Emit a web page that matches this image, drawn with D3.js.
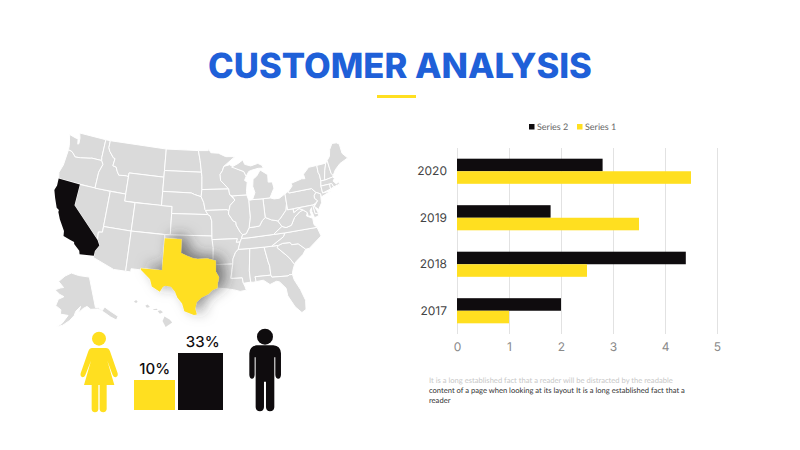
<!doctype html>
<html lang="en">
<head>
<meta charset="UTF-8">
<title>Customer Analysis</title>
<script src="https://cdnjs.cloudflare.com/ajax/libs/d3/7.8.5/d3.min.js"></script>
<style>
  html, body { margin: 0; padding: 0; background: #fff; }
  svg { display: block; }
  text { text-rendering: geometricPrecision; }
  .domain { display: none; }
</style>
</head>
<body>
<script>
  // chart values
  var years = ["2020", "2019", "2018", "2017"];
  var series2 = [2.8, 1.8, 4.4, 2];
  var series1 = [4.5, 3.5, 2.5, 1];
  var xTicks = [0, 1, 2, 3, 4, 5];
  var legendLabels = ["Series 2", "Series 1"];
  var shareLabels = ["10%", "33%"];
  var shareValues = [10, 33];
  var noteLines = [
    "It is a long established fact that a reader will be distracted by the readable",
    "content of a page when looking at its layout It is a long established fact that a",
    "reader"
  ];

  // state outlines, lon/lat
  var states = {
    WA: [[-124.7,48.38],[-123.2,48.15],[-122.75,48.15],[-122.5,47.4],[-122.3,47.5],[-122.4,48.3],[-122.75,49],[-117.03,49],[-117.04,46.42],[-116.92,45.99],[-118.98,46],[-119.3,45.93],[-121.2,45.65],[-122.3,45.55],[-122.8,45.9],[-123.2,46.15],[-124,46.27],[-124.1,46.9]],
    OR: [[-124,46.27],[-123.2,46.15],[-122.8,45.9],[-122.3,45.55],[-121.2,45.65],[-119.3,45.93],[-118.98,46],[-116.92,45.99],[-116.5,45.5],[-117,44.3],[-117.03,42],[-124.2,42],[-124.5,42.85],[-124.1,44]],
    NV: [[-120,42],[-114.04,42],[-114.04,36.2],[-114.75,36.1],[-114.63,35],[-120,39]],
    ID: [[-117.03,49],[-116.05,49],[-116.05,48],[-115.7,47.5],[-114.7,46.7],[-114.35,46.65],[-114.5,45.6],[-113.8,45.5],[-113.45,44.95],[-113,44.45],[-111.5,44.55],[-111.05,44.48],[-111.05,42],[-117.03,42],[-117,44.3],[-116.5,45.5],[-116.92,45.99],[-117.04,46.42]],
    MT: [[-116.05,49],[-104.05,49],[-104.05,45],[-111.05,45],[-111.05,44.48],[-111.5,44.55],[-113,44.45],[-113.45,44.95],[-113.8,45.5],[-114.5,45.6],[-114.35,46.65],[-114.7,46.7],[-115.7,47.5],[-116.05,48]],
    WY: [[-111.05,45],[-104.05,45],[-104.05,41],[-111.05,41]],
    UT: [[-114.04,42],[-111.05,42],[-111.05,41],[-109.05,41],[-109.05,37],[-114.04,37]],
    CO: [[-109.05,41],[-102.05,41],[-102.05,37],[-109.05,37]],
    AZ: [[-114.04,37],[-109.05,37],[-109.05,31.33],[-111.07,31.33],[-114.81,32.5],[-114.72,32.72],[-114.7,33.4],[-114.14,34.3],[-114.63,35],[-114.75,36.1],[-114.04,36.2]],
    NM: [[-109.05,37],[-103,37],[-103.04,32],[-106.62,32],[-106.53,31.78],[-108.2,31.78],[-108.2,31.33],[-109.05,31.33]],
    ND: [[-104.05,49],[-97.23,49],[-96.85,47.6],[-96.56,45.94],[-104.05,45.94]],
    SD: [[-104.05,45.94],[-96.56,45.94],[-96.45,45.3],[-96.45,43.5],[-96.6,42.5],[-97.9,42.8],[-98.5,43],[-104.05,43]],
    NE: [[-104.05,43],[-98.5,43],[-97.9,42.8],[-96.6,42.5],[-96.1,41.7],[-95.85,40.7],[-95.31,40],[-102.05,40],[-102.05,41],[-104.05,41]],
    KS: [[-102.05,40],[-95.31,40],[-94.9,39.8],[-94.62,39.1],[-94.62,37],[-102.05,37]],
    OK: [[-103,37],[-94.62,37],[-94.43,35.4],[-94.48,33.64],[-95.5,33.88],[-97.1,33.8],[-97.9,33.9],[-98.9,34.2],[-100,34.56],[-100,36.5],[-103,36.5]],
    MN: [[-97.23,49],[-95.15,49],[-95.15,49.38],[-94.6,48.7],[-93,48.6],[-91.5,48.07],[-89.6,48],[-92,46.7],[-92.3,46.1],[-92.8,45.6],[-92.75,44.75],[-91.22,43.5],[-96.45,43.5],[-96.45,45.3],[-96.56,45.94],[-96.85,47.6]],
    IA: [[-96.45,43.5],[-91.22,43.5],[-91.1,42.7],[-90.15,41.9],[-91.1,41.2],[-91.42,40.38],[-91.73,40.61],[-95.77,40.58],[-95.85,40.7],[-96.1,41.7],[-96.6,42.5]],
    MO: [[-95.77,40.58],[-91.73,40.61],[-91.42,40.38],[-91.5,40],[-90.7,39],[-90.2,38.8],[-90.2,38.4],[-89.5,37.3],[-89.15,37],[-89.4,36.5],[-89.7,36],[-90.37,36],[-90.15,36.5],[-94.62,36.5],[-94.62,39.1],[-94.9,39.8],[-95.31,40]],
    AR: [[-94.62,36.5],[-90.15,36.5],[-90.37,36],[-89.7,36],[-90.1,35],[-90.6,34.6],[-91.1,33.7],[-91.17,33],[-94.04,33],[-94.04,33.55],[-94.48,33.64],[-94.43,35.4]],
    LA: [[-94.04,33],[-91.17,33],[-91.6,31],[-89.73,31],[-89.6,30.2],[-89.4,29.8],[-89.2,29.2],[-90.2,29.1],[-91.3,29.4],[-92.3,29.55],[-93.85,29.7],[-93.8,30.3],[-93.55,31.2],[-94.04,31.99]],
    MS: [[-90.1,35],[-88.2,35],[-88.1,34.9],[-88.47,31.9],[-88.4,30.3],[-89.6,30.2],[-89.73,31],[-91.6,31],[-91.17,33],[-91.1,33.7],[-90.6,34.6]],
    AL: [[-88.2,35],[-85.6,35],[-85.18,32.87],[-85,32.3],[-85,31],[-87.6,31],[-87.5,30.3],[-88,30.25],[-88.4,30.3],[-88.47,31.9],[-88.1,34.9]],
    GA: [[-85.6,35],[-83.1,35],[-83.35,34.7],[-82,33.5],[-81.5,33],[-80.85,32.05],[-81.3,31.2],[-81.45,30.7],[-82,30.7],[-82.2,30.57],[-84.86,30.7],[-85,31],[-85,32.3],[-85.18,32.87]],
    FL: [[-87.6,31],[-85,31],[-84.86,30.7],[-82.2,30.57],[-82,30.7],[-81.45,30.7],[-81.3,29.9],[-80.55,28.4],[-80.03,26.8],[-80.2,25.5],[-80.9,25.15],[-81.8,26.1],[-82.7,27.8],[-82.8,28.9],[-83.7,29.9],[-84.2,30.05],[-85.3,29.7],[-86.3,30.4],[-87.5,30.3]],
    SC: [[-83.1,35],[-82.3,35.2],[-81,35.15],[-80.8,34.82],[-79.67,34.8],[-78.55,33.86],[-79.2,33.2],[-80.5,32.4],[-80.85,32.05],[-81.5,33],[-82,33.5],[-83.35,34.7]],
    NC: [[-84.32,35],[-83.1,35],[-82.3,35.2],[-81,35.15],[-80.8,34.82],[-79.67,34.8],[-78.55,33.86],[-77.9,33.9],[-76.5,34.7],[-75.5,35.25],[-75.87,36.55],[-81.68,36.59],[-82,36.1]],
    TN: [[-89.7,36],[-89.4,36.5],[-88.07,36.5],[-83.68,36.6],[-81.68,36.59],[-82,36.1],[-84.32,35],[-85.6,35],[-88.2,35],[-90.1,35]],
    KY: [[-89.4,36.5],[-89.15,37],[-88.5,37.1],[-87.9,37.9],[-86.8,37.95],[-86,38],[-85.4,38.7],[-84.8,39.1],[-83.7,38.65],[-82.6,38.4],[-82,37.55],[-83.68,36.6],[-88.07,36.5]],
    VA: [[-83.68,36.6],[-82,37.55],[-81.3,37.3],[-80.3,37.5],[-79.5,38.5],[-78.4,39.15],[-77.72,39.32],[-77.05,38.85],[-77.3,38.4],[-76.3,37.9],[-76.3,37],[-75.87,36.55],[-81.68,36.59]],
    WV: [[-82.6,38.4],[-82,37.55],[-81.3,37.3],[-80.3,37.5],[-79.5,38.5],[-78.4,39.15],[-77.72,39.32],[-78.4,39.62],[-79.48,39.2],[-79.48,39.72],[-80.52,39.72],[-80.52,40.64],[-80.85,39.7],[-81.7,39],[-82.2,38.6]],
    OH: [[-84.8,41.73],[-83.45,41.73],[-82.7,41.5],[-81.7,41.5],[-80.52,41.98],[-80.52,40.64],[-80.85,39.7],[-81.7,39],[-82.2,38.6],[-82.6,38.4],[-83.7,38.65],[-84.8,39.1]],
    IN: [[-87.53,41.7],[-86.8,41.76],[-84.8,41.73],[-84.8,39.1],[-85.4,38.7],[-86,38],[-86.8,37.95],[-87.9,37.9],[-87.53,39.35]],
    IL: [[-90.64,42.5],[-87.8,42.5],[-87.53,41.7],[-87.53,39.35],[-87.9,37.9],[-88.5,37.1],[-89.15,37],[-89.5,37.3],[-90.2,38.4],[-90.2,38.8],[-90.7,39],[-91.5,40],[-91.42,40.38],[-91.1,41.2],[-90.15,41.9]],
    WI: [[-92,46.7],[-90.8,46.9],[-89.1,46.15],[-88,45.8],[-87.6,45.1],[-88,44.55],[-87.5,44.3],[-87.8,43],[-87.8,42.5],[-90.64,42.5],[-91.1,42.7],[-91.22,43.5],[-92.75,44.75],[-92.8,45.6],[-92.3,46.1]],
    MIL: [[-86.8,41.76],[-84.8,41.73],[-83.45,41.73],[-83.1,42.2],[-82.45,43],[-82.6,43.9],[-83.4,43.95],[-83.3,45],[-84.7,45.78],[-85.5,45],[-86.3,44.6],[-86.5,43.6],[-86.2,42.7]],
    MIU: [[-90.4,46.55],[-89,47],[-88,47.45],[-87.7,46.8],[-86.5,46.5],[-85,46.75],[-84.2,46.4],[-84,46],[-85,46.05],[-86.3,45.9],[-87,45.75],[-87.6,45.1],[-88,45.8],[-89.1,46.15]],
    PA: [[-80.52,41.98],[-79.76,42.26],[-79.76,42],[-75.35,42],[-74.7,41.35],[-75.13,40.97],[-75.2,40.6],[-74.72,40.15],[-75.4,39.8],[-75.8,39.72],[-80.52,39.72]],
    NY: [[-79.76,42.26],[-78.9,42.9],[-79.05,43.27],[-76.8,43.63],[-76.2,43.55],[-76.3,44.2],[-75,45],[-73.34,45],[-73.4,44],[-73.25,43.6],[-73.28,42.75],[-73.5,42.05],[-73.49,41.05],[-71.9,41.05],[-73.9,40.55],[-73.9,41],[-74.7,41.35],[-75.35,42],[-79.76,42]],
    VT: [[-73.34,45],[-71.5,45],[-72.05,44],[-72.45,43],[-72.46,42.73],[-73.28,42.75],[-73.25,43.6],[-73.4,44]],
    NH: [[-71.5,45],[-71.08,45.3],[-70.98,43.4],[-70.7,43.05],[-70.85,42.87],[-72.46,42.73],[-72.45,43],[-72.05,44]],
    ME: [[-71.08,45.3],[-70.4,45.8],[-70,46.7],[-69.2,47.45],[-68.3,47.35],[-67.8,47.07],[-67.8,45.7],[-67,44.85],[-68.8,44.4],[-70,43.75],[-70.7,43.05],[-70.98,43.4]],
    MA: [[-73.5,42.05],[-73.28,42.75],[-72.46,42.73],[-70.85,42.87],[-70.6,42.65],[-71,42.3],[-70.55,41.8],[-70,42],[-70,41.65],[-71.2,41.5],[-71.38,42.02]],
    CT: [[-73.5,42.05],[-71.8,42.02],[-71.85,41.32],[-73.49,41.05]],
    RI: [[-71.8,42.02],[-71.38,42.02],[-71.2,41.5],[-71.85,41.32]],
    NJ: [[-74.7,41.35],[-73.9,41],[-74,40.45],[-74.1,39.75],[-74.9,38.93],[-75.55,39.5],[-74.72,40.15],[-75.2,40.6],[-75.13,40.97]],
    DE: [[-75.8,39.72],[-75.4,39.8],[-75.55,39.5],[-75.05,38.45],[-75.7,38.46]],
    MD: [[-79.48,39.72],[-75.8,39.72],[-75.7,38.46],[-75.05,38.45],[-75.25,38.03],[-75.95,37.95],[-76.2,38.9],[-76.1,39.4],[-76.5,39],[-76.4,38.3],[-77,38.3],[-77.05,38.85],[-77.72,39.32],[-78.4,39.62],[-79.48,39.2]]
  };
  var california = [[-124.2,42],[-120,42],[-120,39],[-114.63,35],[-114.14,34.3],[-114.7,33.4],[-114.72,32.72],[-117.12,32.53],[-117.3,33],[-118.4,33.75],[-118.5,34.03],[-119.2,34.15],[-120.5,34.45],[-120.65,35.15],[-121.9,36.6],[-122.5,37.5],[-122.5,37.8],[-123,38],[-123.8,39.3],[-124.35,40.3],[-124.1,41]];
  var texas = [[-106.62,32],[-103.04,32],[-103,36.5],[-100,36.5],[-100,34.56],[-98.9,34.2],[-97.9,33.9],[-97.1,33.8],[-95.5,33.88],[-94.48,33.64],[-94.04,33.55],[-94.04,33],[-94.04,31.99],[-93.55,31.2],[-93.8,30.3],[-93.85,29.7],[-94.7,29.4],[-95.3,28.9],[-96.4,28.4],[-97.2,27.7],[-97.4,26.8],[-97.15,25.96],[-97.6,25.9],[-99.1,26.4],[-99.5,27.5],[-100.3,28.3],[-100.7,29.1],[-101.4,29.77],[-102.3,29.88],[-102.7,29.7],[-103.15,28.98],[-104.5,29.6],[-104.9,30.6],[-106.53,31.78]];
  var alaska = [[-141,69.6],[-141,60.3],[-139,60],[-137.5,58.9],[-135.5,59.8],[-133.5,58.4],[-130,55.9],[-131.5,55],[-134,56.5],[-136.5,58.2],[-139.5,59.7],[-144,60],[-146,61],[-148.5,60.5],[-151.5,59.3],[-150,61.2],[-153,59.8],[-154,58.5],[-156.5,57],[-160,55.5],[-163.5,54.7],[-160.5,56],[-157.5,58.5],[-162,58.7],[-162,60],[-165.5,61],[-164.5,63],[-161,64],[-164,64.5],[-168,65.6],[-164,66.5],[-162,66.7],[-166.5,68.3],[-162,70.2],[-156.5,71.3],[-150,70.5]];
  var hawaii = [
    [[-159.8,22.05],[-159.5,22.25],[-159.3,22.05],[-159.5,21.88]],
    [[-158.3,21.55],[-158,21.72],[-157.7,21.4],[-158.1,21.3]],
    [[-157.3,21.13],[-156.8,21.2],[-156.7,21.05],[-157.2,21.05]],
    [[-156.7,20.9],[-156.3,21],[-156,20.75],[-156.4,20.58]],
    [[-156.05,19.7],[-155.8,20.25],[-155.1,19.85],[-154.8,19.5],[-155.65,18.95]]
  ];

  var width = 800, height = 450;
  var blue = "#1f60d8", yellow = "#ffdf20", black = "#0f0c0e", grey = "#dadada";

  var svg = d3.select("body").append("svg").attr("width", width).attr("height", height);

  var defs = svg.append("defs");
  var shadow = defs.append("filter").attr("id", "texasShadow")
    .attr("x", "-40%").attr("y", "-40%").attr("width", "180%").attr("height", "180%");
  shadow.append("feDropShadow").attr("dx", 7).attr("dy", -3).attr("stdDeviation", 7)
    .attr("flood-color", "#333").attr("flood-opacity", 0.6);

  // title
  svg.append("text").attr("x", 400).attr("y", 78).attr("text-anchor", "middle")
    .attr("font-family", "Inter").attr("font-weight", 800).attr("font-size", 34.6)
    .attr("fill", blue).text("CUSTOMER ANALYSIS");
  svg.append("rect").attr("x", 377).attr("y", 95).attr("width", 39).attr("height", 3).attr("fill", yellow);

  // map
  function outlinePoints(list) {
    var all = [];
    list.forEach(function(p) { all = all.concat(p); });
    return { type: "MultiPoint", coordinates: all };
  }
  var lower48 = Object.values(states).concat([california, texas]);
  var albers = d3.geoAlbers().rotate([96, 0]).center([0, 37.5]).parallels([29.5, 45.5])
    .fitExtent([[54, 133], [348, 315]], outlinePoints(lower48));
  var akProj = d3.geoConicEqualArea().rotate([154, 0]).center([0, 60]).parallels([55, 65])
    .fitExtent([[53, 273], [120, 327]], outlinePoints([alaska]));
  var hiProj = d3.geoMercator().fitExtent([[133, 300], [173, 327]], outlinePoints(hawaii));

  function shape(proj) {
    return function(pts) { return d3.line().curve(d3.curveLinearClosed)(pts.map(proj)); };
  }
  var map = svg.append("g").attr("stroke", "#fff").attr("stroke-width", 1).attr("stroke-linejoin", "round");
  map.selectAll(".state").data(Object.values(states)).enter().append("path")
    .attr("class", "state").attr("fill", grey).attr("d", shape(albers));
  map.append("path").datum(alaska).attr("fill", grey).attr("d", shape(akProj));
  map.selectAll(".island").data(hawaii).enter().append("path")
    .attr("class", "island").attr("fill", grey).attr("stroke", "none").attr("d", shape(hiProj));
  map.append("path").datum(california).attr("fill", black).attr("stroke", "none").attr("d", shape(albers));
  map.append("path").datum(texas).attr("fill", yellow).attr("stroke", "none")
    .attr("filter", "url(#texasShadow)").attr("d", shape(albers));

  // share bars
  var shareX = d3.scaleOrdinal().domain(shareValues).range([134, 178]);
  var shareW = d3.scaleOrdinal().domain(shareValues).range([41, 45]);
  var shareY = d3.scaleLinear().domain([10, 33]).range([380, 353]);
  var shareLabelX = d3.scaleOrdinal().domain(shareValues).range([154.7, 202.7]);
  svg.selectAll(".share").data(shareValues).enter().append("rect")
    .attr("class", "share")
    .attr("x", function(d) { return shareX(d); })
    .attr("width", function(d) { return shareW(d); })
    .attr("y", function(d) { return shareY(d); })
    .attr("height", function(d) { return 410 - shareY(d); })
    .attr("fill", function(d, i) { return i ? black : yellow; });
  svg.selectAll(".shareLabel").data(shareValues).enter().append("text")
    .attr("class", "shareLabel")
    .attr("x", function(d) { return shareLabelX(d); })
    .attr("y", function(d) { return shareY(d) - 6.5; })
    .attr("text-anchor", "middle")
    .attr("font-family", "Inter").attr("font-weight", 500).attr("font-size", 15)
    .attr("fill", black)
    .text(function(d, i) { return shareLabels[i]; });

  // people, drawn in a 3x grid
  var people = svg.append("g").attr("transform", "translate(70,320) scale(0.3333)");
  people.append("circle").attr("cx", 87).attr("cy", 56).attr("r", 21).attr("fill", yellow);
  people.append("path").attr("fill", yellow)
    .attr("d", "M66 84 H108 Q116 84 120 94 L143 160 Q145 170 136 172 Q131 172 128 165 L112 122 L133 195 H110 V268 Q108 277 100 277 Q90 277 89 268 V195 H85 V268 Q84 277 75 277 Q66 277 65 268 V195 H42 L63 122 L46 165 Q43 172 38 172 Q30 170 32 160 L55 94 Q59 84 66 84 Z");
  people.append("circle").attr("cx", 585).attr("cy", 50).attr("r", 24).attr("fill", black);
  people.append("path").attr("fill", black)
    .attr("d", "M560 76 H610 Q632 78 633 100 V165 Q632 176 625 176 Q617 176 616 165 V112 L613 112 V262 Q612 274 600 274 Q589 274 588 262 V185 H582 V262 Q581 274 570 274 Q558 274 557 262 V112 L554 112 V165 Q553 176 546 176 Q539 176 538 165 V100 Q539 78 560 76 Z");

  // bar chart
  var x = d3.scaleLinear().domain([0, 5]).range([457, 717]);
  var y = d3.scaleBand().domain(years).range([148, 334]).paddingInner(0.46).paddingOuter(0.23);
  var xAxis = svg.append("g").attr("transform", "translate(0,334)")
    .call(d3.axisBottom(x).tickValues(xTicks).tickSize(-186).tickPadding(8).tickFormat(d3.format("d")));
  xAxis.selectAll("line").attr("stroke", "#e2e2e2");
  xAxis.selectAll("text").attr("font-family", "Inter").attr("font-size", 12).attr("fill", "#8a8a8a");
  var yAxis = svg.append("g").attr("transform", "translate(457,0)")
    .call(d3.axisLeft(y).tickSize(0).tickPadding(10));
  yAxis.selectAll("text").attr("font-family", "Inter").attr("font-weight", 400).attr("font-size", 12).attr("fill", "#444");

  svg.selectAll(".bar2").data(years).enter().append("rect")
    .attr("class", "bar2").attr("x", x(0))
    .attr("y", function(d) { return y(d); })
    .attr("width", function(d, i) { return x(series2[i]) - x(0); })
    .attr("height", y.bandwidth() / 2).attr("fill", black);
  svg.selectAll(".bar1").data(years).enter().append("rect")
    .attr("class", "bar1").attr("x", x(0))
    .attr("y", function(d) { return y(d) + y.bandwidth() / 2; })
    .attr("width", function(d, i) { return x(series1[i]) - x(0); })
    .attr("height", y.bandwidth() / 2).attr("fill", yellow);

  // legend
  var legendX = d3.scaleOrdinal().domain(legendLabels).range([529, 577]);
  var legend = svg.selectAll(".legend").data(legendLabels).enter().append("g").attr("class", "legend")
    .attr("transform", function(d) { return "translate(" + legendX(d) + ",0)"; });
  legend.append("rect").attr("y", 124).attr("width", 5.5).attr("height", 5.5)
    .attr("fill", function(d, i) { return i ? yellow : black; });
  legend.append("text").attr("x", 8).attr("y", 130)
    .attr("font-family", "Lato").attr("font-size", 9).attr("fill", "#666")
    .text(function(d) { return d; });

  // note
  svg.selectAll(".note").data(noteLines).enter().append("text").attr("class", "note")
    .attr("x", 429).attr("y", function(d, i) { return 383 + i * 10; })
    .attr("font-family", "Lato").attr("font-size", 7.6)
    .attr("fill", function(d, i) { return i ? "#333" : "#c8c8c8"; })
    .text(function(d) { return d; });
</script>
</body>
</html>
